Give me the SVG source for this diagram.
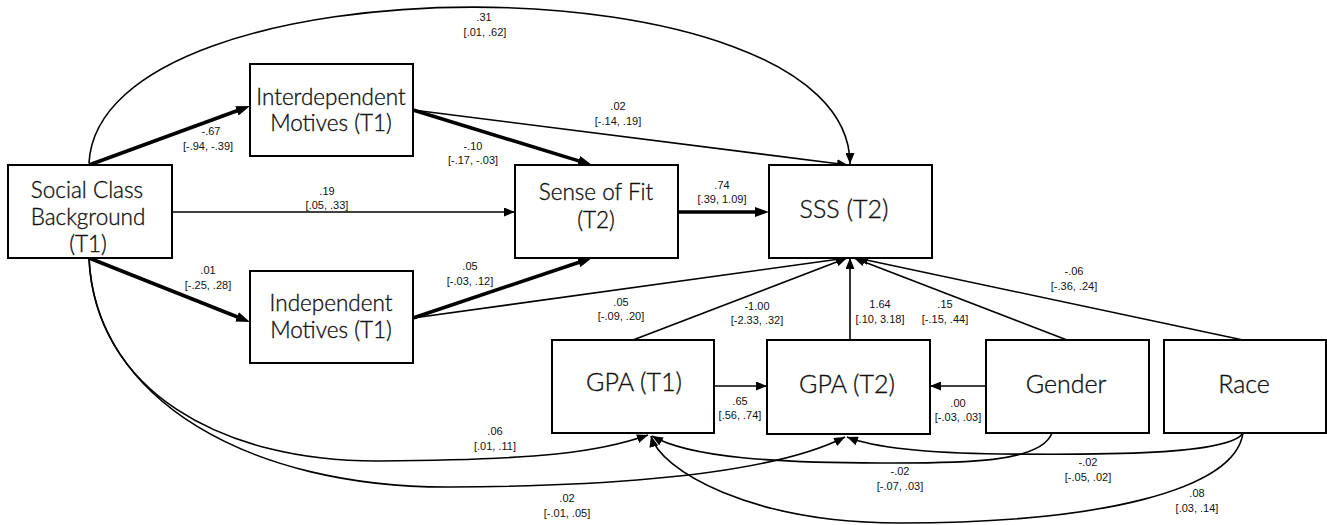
<svg xmlns="http://www.w3.org/2000/svg" width="1327" height="525" viewBox="0 0 1327 525">
<style>
.box{fill:#fff;stroke:#000;stroke-width:2}
.nt{font-family:Lato,"Liberation Sans",sans-serif;font-weight:300;font-size:22.5px;fill:#111;stroke:#111;stroke-width:0.35;text-anchor:middle}
.nb{font-family:Lato,"Liberation Sans",sans-serif;font-weight:300;font-size:25px;fill:#111;stroke:#111;stroke-width:0.35;text-anchor:middle}
.lb{font-family:"Liberation Sans",Arial,sans-serif;font-size:11px;fill:#111;text-anchor:middle}
.thin{fill:none;stroke:#000;stroke-width:1.6;marker-end:url(#ah)}
.thick{fill:none;stroke:#000;stroke-width:3.6;marker-end:url(#ahb)}
</style>
<defs>
<marker id="ah" viewBox="0 0 11 9" refX="11" refY="4.5" markerWidth="11" markerHeight="9" markerUnits="userSpaceOnUse" orient="auto"><path d="M0,0 L11,4.5 L0,9 z" fill="#000"/></marker>
<marker id="ahb" viewBox="0 0 14 10" refX="6" refY="5" markerWidth="14" markerHeight="10" markerUnits="userSpaceOnUse" orient="auto"><path d="M0,0 L14,5 L0,10 z" fill="#000"/></marker>
</defs>
<rect width="1327" height="525" fill="#fff"/>
<g id="connectors">
<path class="thick" d="M89,165 L242.5,108.8"/>
<path class="thick" d="M89,258 L242.6,319"/>
<path class="thick" d="M413,110 L584.4,162.6"/>
<path class="thick" d="M413,318 L584.4,260.5"/>
<path class="thick" d="M678,212 L761,212"/>
<path class="thin" d="M89,163 C100,-45 850,-45 850,164"/>
<path class="thin" d="M172,212 L515,212"/>
<path class="thin" d="M413,110 L848,165"/>
<path class="thin" d="M413,318 L847,258"/>
<path class="thin" d="M633,340 L847,258"/>
<path class="thin" d="M850,340 L850,258"/>
<path class="thin" d="M1067,340 L854,258"/>
<path class="thin" d="M1243,340 L857,258"/>
<path class="thin" d="M714,386 L767,386"/>
<path class="thin" d="M986,386 L930,386"/>
<path class="thin" d="M89,258 C95,390 220,462 380,461 C540,460 600,452 648,435"/>
<path class="thin" d="M89,258 C95,400 250,488 450,487 C650,486 780,470 845,437"/>
<path class="thin" d="M1052,433 C1040,465 950,463 880,463 C780,463 690,458 652,436"/>
<path class="thin" d="M1243,433 C1230,455 1100,455 1000,454 C920,453 870,446 847,437"/>
<path class="thin" d="M1243,433 C1235,490 1100,523 900,523 C750,523 660,470 651,436"/>
</g>
<g id="labels">
<text class="lb" x="484" y="21">.31</text><text class="lb" x="485" y="36">[.01, .62]</text>
<text class="lb" x="211" y="135">-.67</text><text class="lb" x="208" y="150">[-.94, -.39]</text>
<text class="lb" x="618" y="110">.02</text><text class="lb" x="618" y="125">[-.14, .19]</text>
<text class="lb" x="473" y="150">-.10</text><text class="lb" x="473" y="164">[-.17, -.03]</text>
<text class="lb" x="327" y="195">.19</text><text class="lb" x="327" y="209">[.05, .33]</text>
<text class="lb" x="722" y="189">.74</text><text class="lb" x="722" y="203">[.39, 1.09]</text>
<text class="lb" x="208" y="274">.01</text><text class="lb" x="208" y="289">[-.25, .28]</text>
<text class="lb" x="470" y="270">.05</text><text class="lb" x="470" y="285">[-.03, .12]</text>
<text class="lb" x="621" y="306">.05</text><text class="lb" x="621" y="320">[-.09, .20]</text>
<text class="lb" x="757" y="310">-1.00</text><text class="lb" x="757" y="324">[-2.33, .32]</text>
<text class="lb" x="880" y="308">1.64</text><text class="lb" x="880" y="323">[.10, 3.18]</text>
<text class="lb" x="945" y="308">.15</text><text class="lb" x="945" y="323">[-.15, .44]</text>
<text class="lb" x="1074" y="275">-.06</text><text class="lb" x="1074" y="290">[-.36, .24]</text>
<text class="lb" x="740" y="405">.65</text><text class="lb" x="740" y="419">[.56, .74]</text>
<text class="lb" x="958" y="407">.00</text><text class="lb" x="958" y="421">[-.03, .03]</text>
<text class="lb" x="495" y="435">.06</text><text class="lb" x="495" y="450">[.01, .11]</text>
<text class="lb" x="900" y="475">-.02</text><text class="lb" x="900" y="490">[-.07, .03]</text>
<text class="lb" x="1088" y="466">-.02</text><text class="lb" x="1088" y="481">[-.05, .02]</text>
<text class="lb" x="1197" y="497">.08</text><text class="lb" x="1197" y="512">[.03, .14]</text>
<text class="lb" x="567" y="502">.02</text><text class="lb" x="567" y="517">[-.01, .05]</text>
</g>
<g id="scb"><rect class="box" x="8" y="165" width="164" height="93"/><text class="nt" x="87" y="198">Social Class</text><text class="nt" x="88" y="225">Background</text><text class="nt" x="88" y="252">(T1)</text></g>
<g id="interdep"><rect class="box" x="250" y="64" width="163" height="92"/><text class="nt" x="331" y="105">Interdependent</text><text class="nt" x="331" y="131">Motives (T1)</text></g>
<g id="indep"><rect class="box" x="250" y="271" width="163" height="92"/><text class="nt" x="331" y="311">Independent</text><text class="nt" x="331" y="338">Motives (T1)</text></g>
<g id="fit"><rect class="box" x="515" y="165" width="163" height="93"/><text class="nt" x="596" y="200">Sense of Fit</text><text class="nt" x="596" y="228">(T2)</text></g>
<g id="sss"><rect class="box" x="769" y="165" width="163" height="93"/><text class="nb" x="844" y="218">SSS (T2)</text></g>
<g id="gpa1"><rect class="box" x="552" y="340" width="162" height="93"/><text class="nb" x="634" y="391">GPA (T1)</text></g>
<g id="gpa2"><rect class="box" x="767" y="340" width="163" height="94"/><text class="nb" x="847" y="393">GPA (T2)</text></g>
<g id="gender"><rect class="box" x="986" y="340" width="163" height="93"/><text class="nb" x="1066" y="393">Gender</text></g>
<g id="race"><rect class="box" x="1164" y="340" width="162" height="93"/><text class="nb" x="1244" y="393">Race</text></g>
</svg>
